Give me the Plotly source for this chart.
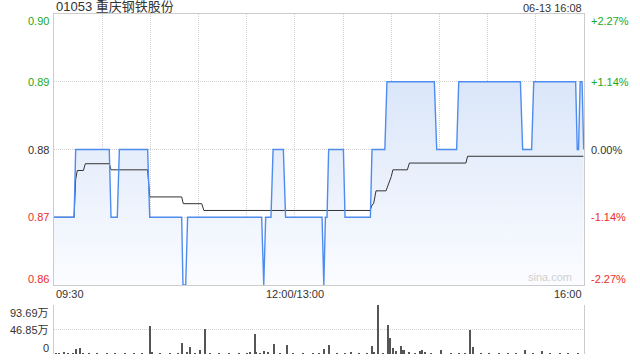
import plotly.graph_objects as go

# ---- data (minutes since 09:30 on a 330-minute trading axis) ----
price_t = [0, 12.5, 13.5, 34.4, 35.5, 39.4, 40.7, 58.3, 59.6, 79.5, 80.3, 82, 83.2,
           129.3, 130.6, 131.8, 135.1, 136.4, 142.8, 144.2, 166.9, 168, 169, 170, 171,
           180.2, 181.2, 197, 198, 206, 207.3, 236.8, 238.3, 250.7, 252, 290.4, 291.8,
           297.4, 298.7, 324.8, 325.8, 326.6, 327.6, 328.8, 329.8]
price_v = [0.87, 0.87, 0.88, 0.88, 0.87, 0.87, 0.88, 0.88, 0.87, 0.87, 0.86, 0.86, 0.87,
           0.87, 0.86, 0.87, 0.87, 0.88, 0.88, 0.87, 0.87, 0.86, 0.87, 0.87, 0.88,
           0.88, 0.87, 0.87, 0.88, 0.88, 0.89, 0.89, 0.88, 0.88, 0.89, 0.89, 0.88,
           0.88, 0.89, 0.89, 0.88, 0.88, 0.89, 0.89, 0.88]

avg_t = [0, 12.5, 13.5, 14.5, 18.3, 19.5, 34.4, 35.5, 58.3, 59.6, 79.5, 80.5, 92, 93.3,
         196.8, 198, 199, 200.5, 206.7, 210, 211, 220, 221.3, 256.5, 257.5, 329.6]
avg_v = [0.87, 0.87, 0.8756, 0.8769, 0.8769, 0.8779, 0.8779, 0.8770, 0.8770, 0.8730,
         0.8730, 0.8720, 0.8720, 0.8710, 0.8710, 0.8718, 0.8720, 0.8739, 0.8739, 0.8760,
         0.8770, 0.8770, 0.8780, 0.8780, 0.8790, 0.8790]

vol_t = [1, 3, 6, 9, 12, 14, 16, 18, 22, 27, 33, 38, 44, 50, 55, 60, 61, 66, 72, 77, 80,
         83, 85, 88, 91, 94, 97, 103, 109, 115, 120, 122, 125, 126, 128, 131, 133, 137,
         141, 145, 149, 155, 161, 165, 168, 171, 176, 181, 185, 190, 195, 198, 199, 201.5,
         205, 208, 209, 211, 213, 216, 217, 218, 221, 225, 228, 229, 231, 235, 241, 247,
         252, 256, 259, 261, 266, 271, 277, 283, 288, 293, 298, 304, 309, 315, 320, 326]
vol_v = [1.5, 1, 4, 1, 1.5, 10, 12, 1.5, 1, 1, 1, 1, 1, 1, 1, 54, 3, 1, 1, 1.5, 21.6,
         2, 14, 1.5, 7.6, 47.8, 1, 1, 1, 1, 1.5, 3, 38.8, 3, 1.5, 5, 2.5, 19,
         1.5, 17, 1, 1, 1, 1.5, 9.5, 18, 1, 1, 3, 1, 1.5, 15, 3, 93.69,
         1.5, 55.5, 31, 11, 6, 15, 7, 7, 2, 1.5, 5, 7, 2, 1.5, 7, 1,
         1, 1.5, 46, 13, 1, 1, 1, 1, 1.5, 7, 1, 5, 1, 1, 1, 1.5]

price_ticks = [0.86, 0.87, 0.88, 0.89, 0.90]
price_labels = ["0.86", "0.87", "0.88", "0.89", "0.90"]
pct_labels = ["-2.27%", "-1.14%", "0.00%", "+1.14%", "+2.27%"]
vol_ticks = [0, 46.85, 93.69]
vol_labels = ["0", "46.85万", "93.69万"]
time_ticks = [0, 150, 330]
time_labels = ["09:30", "12:00/13:00", "16:00"]
title_text = "01053 重庆钢铁股份"
stamp_text = "06-13 16:08"

GREEN = "#1ca81c"
RED = "#ee2b2b"
DARK = "#333333"
GRID = "#d2d2d2"
FONT = "Arial, Liberation Sans, Noto Sans CJK SC, sans-serif"

fig = go.Figure()

# fill
fig.add_trace(go.Scatter(
    x=price_t, y=price_v, mode="lines", line=dict(width=0),
    fill="tozeroy",
    fillgradient=dict(type="vertical", start=0.86, stop=0.89,
                      colorscale=[[0, "#fbfcff"], [1, "#dae6f9"]]),
    hoverinfo="skip", showlegend=False, xaxis="x", yaxis="y"))
# average line
fig.add_trace(go.Scatter(x=avg_t, y=avg_v, mode="lines",
                         line=dict(color="#333333", width=1), showlegend=False,
                         xaxis="x", yaxis="y"))
# price line
fig.add_trace(go.Scatter(x=price_t, y=price_v, mode="lines",
                         line=dict(color="#4f8cf0", width=1.4), showlegend=False,
                         xaxis="x", yaxis="y"))
# volume
fig.add_trace(go.Bar(x=vol_t, y=vol_v, width=0.7, marker=dict(color="#555555", line=dict(width=0)),
                     showlegend=False, xaxis="x2", yaxis="y2"))

H = 360
mt, mb = 14, 6
ph = H - mt - mb
main_bottom = (354 - 285) / ph
vol_top = (354 - 305) / ph

fig.update_layout(
    width=640, height=360,
    margin=dict(l=54, r=56, t=mt, b=mb),
    paper_bgcolor="white", plot_bgcolor="white",
    font=dict(family=FONT, size=11, color=DARK),
    bargap=0,
    xaxis=dict(domain=[0, 1], range=[0, 330], showticklabels=False, ticks="",
               showgrid=True, dtick=30, tick0=0, gridcolor=GRID, griddash="1px,1px",
               gridwidth=1, showline=True, mirror=True, linecolor="#cccccc", linewidth=1,
               zeroline=False),
    yaxis=dict(domain=[main_bottom, 1], range=[0.86, 0.90], tickvals=price_ticks,
               showticklabels=False, ticks="", showgrid=True, gridcolor=GRID,
               griddash="1px,1px", showline=True, mirror=True, linecolor="#cccccc",
               linewidth=1, zeroline=False),
    xaxis2=dict(domain=[0, 1], range=[0, 330], anchor="y2", showticklabels=False,
                ticks="", showgrid=False, zeroline=False, showline=False),
    yaxis2=dict(domain=[0, vol_top], range=[0, 93.69], tickvals=vol_ticks, anchor="x2",
                showticklabels=False, ticks="", showgrid=True, gridcolor=GRID,
                griddash="1px,1px", showline=True, mirror=True, linecolor="#cccccc",
                linewidth=1, zeroline=False),
)

ann = []
colors_left = [RED, RED, DARK, GREEN, GREEN]
shifts = [6, 0, 0, 0, -7]
for v, lab, pl, c, s in zip(price_ticks, price_labels, pct_labels, colors_left, shifts):
    ann.append(dict(x=0, xref="paper", y=v, yref="y", text=lab, showarrow=False,
                    xanchor="right", yanchor="middle", xshift=-3, yshift=s,
                    font=dict(color=c, size=11)))
    ann.append(dict(x=1, xref="paper", y=v, yref="y", text=pl, showarrow=False,
                    xanchor="left", yanchor="middle", xshift=5, yshift=s,
                    font=dict(color=c, size=11)))
vshift = [6, 0, -8]
for v, lab, s in zip(vol_ticks, vol_labels, vshift):
    ann.append(dict(x=0, xref="paper", y=v, yref="y2", text=lab, showarrow=False,
                    xanchor="right", yanchor="middle", xshift=-3, yshift=s,
                    font=dict(color=DARK, size=11)))
anchors = ["left", "center", "right"]
for t, lab, a in zip(time_ticks, time_labels, anchors):
    ann.append(dict(x=t, xref="x", y=main_bottom, yref="paper", text=lab, showarrow=False,
                    xanchor=a, yanchor="top", yshift=-1, font=dict(color=DARK, size=11)))
ann.append(dict(x=0, xref="paper", y=1, yref="paper", text=title_text, showarrow=False,
                xanchor="left", yanchor="bottom", xshift=0, yshift=-2,
                font=dict(color=DARK, size=13)))
ann.append(dict(x=1, xref="paper", y=1, yref="paper", text=stamp_text, showarrow=False,
                xanchor="right", yanchor="bottom", yshift=-2,
                font=dict(color=DARK, size=11)))
ann.append(dict(x=1, xref="paper", y=0.86, yref="y", text="sina.com", showarrow=False,
                xanchor="right", yanchor="bottom", xshift=-10, yshift=0,
                font=dict(color="#d0d0d0", size=11)))
fig.update_layout(annotations=ann)

fig.write_html("out.html")
